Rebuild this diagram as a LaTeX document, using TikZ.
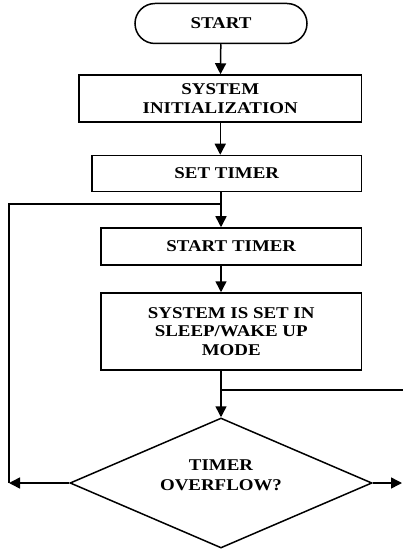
\documentclass[tikz,border=0pt]{standalone}
\usepackage{fontspec}
\setmainfont{Liberation Serif}[FakeStretch=1.15]
\usetikzlibrary{shapes.geometric,arrows.meta}
\begin{document}
\begin{tikzpicture}[x=1bp, y=-1bp, line width=1.5bp]
  %
  \tikzstyle{b} = [draw, rectangle, inner sep=0pt, align=center, font=\fontsize{16.5}{18.5}\selectfont\bfseries]
  \tikzstyle{t} = [align=center, inner sep=0pt, font=\fontsize{16.5}{20.5}\selectfont\bfseries]
  \tikzstyle{arr} = [-{Triangle[length=11bp, width=11bp]}]
  \useasboundingbox (0,0) rectangle (403,550);
  \node[b, rounded corners=20bp, minimum width=172bp, minimum height=40bp] (start) at (221,23.5) {START};
  \node[b, minimum width=282bp, minimum height=47bp, anchor=east] (init) at (362,98.5) {SYSTEM\\INITIALIZATION};
  \node[b, minimum width=269bp, minimum height=36bp, anchor=east] (timer) at (362,173.5) {SET TIMER};
  \node[b, minimum width=260bp, minimum height=37bp, anchor=east] (strt) at (362,246.5) {START TIMER};
  \node[b, minimum width=260bp, minimum height=77bp, anchor=east] (sleep) at (362,331.5) {SYSTEM IS SET IN\\SLEEP/WAKE UP\\MODE};
  \node[draw, diamond, inner sep=0pt, minimum width=302bp, minimum height=130bp] (ovf) at (221,483) {};
  \node[t] (ovftext) at (221,475) {TIMER\\OVERFLOW?};
  % joints
  \coordinate (j1) at (221,204);
  \coordinate (j2) at (221,390);
  \coordinate (lft) at (9,483);
  \coordinate (rgt) at (402,483);
  \coordinate (rend) at (403,390);
  % arrows
  \draw[arr] (start) -- (init);
  \draw[arr] (init.south) -- (init.south |- timer.north);
  \draw (j1 |- timer.south) -- (j1);
  \draw[arr] (j1) -- (j1 |- strt.north);
  \draw[arr] (j1 |- strt.south) -- (j1 |- sleep.north);
  \draw[arr] (j1 |- sleep.south) -- (ovf.north);
  \draw (j2) -- (rend);
  \draw[arr] (ovf.west) -- (lft);
  \draw (lft) -- (lft |- j1) -- (j1);
  \draw[arr] (ovf.east) -- (rgt);
\end{tikzpicture}
\end{document}
